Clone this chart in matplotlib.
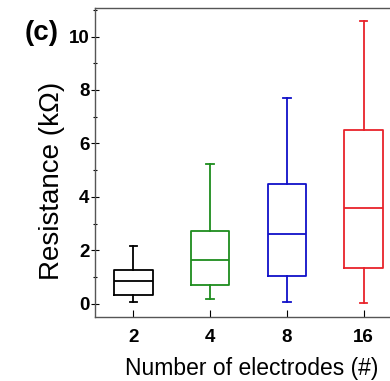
import matplotlib.pyplot as plt
from matplotlib.ticker import MultipleLocator

plt.rcParams['font.family'] = ['Liberation Sans', 'DejaVu Sans']

# box statistics (kOhm)
labels = ["2", "4", "8", "16"]
whisker_low = [0.07, 0.18, 0.07, 0.01]
q1 = [0.34, 0.71, 1.04, 1.33]
medians = [0.83, 1.62, 2.62, 3.58]
q3 = [1.25, 2.73, 4.49, 6.50]
whisker_high = [2.15, 5.23, 7.70, 10.58]
colors = ["black", "#1e8c1e", "#1010c8", "#e8232b"]

stats = []
for i in range(len(labels)):
    stats.append({"label": labels[i], "whislo": whisker_low[i], "q1": q1[i],
                  "med": medians[i], "q3": q3[i], "whishi": whisker_high[i]})

fig = plt.figure(figsize=(3.9, 3.81), dpi=100)
ax = fig.add_axes([0.2436, 0.168, 0.787, 0.811])

for i, s in enumerate(stats):
    c = colors[i]
    ax.bxp([s], positions=[i + 1], widths=0.5, showfliers=False,
           boxprops=dict(color=c, linewidth=1.3),
           medianprops=dict(color=c, linewidth=1.3),
           whiskerprops=dict(color=c, linewidth=1.3),
           capprops=dict(color=c, linewidth=1.3),
           capwidths=0.1)

ax.set_xticks(range(1, len(labels) + 1))
ax.set_xticklabels(labels)
ax.set_xlim(0.5, 4.5)
ax.set_ylim(-0.5, 11.07)
ax.set_yticks([0, 2, 4, 6, 8, 10])
ax.yaxis.set_minor_locator(MultipleLocator(1))

for lab in ax.get_xticklabels() + ax.get_yticklabels():
    lab.set_fontweight('bold')
    lab.set_fontsize(13.5)

ax.tick_params(axis='y', which='major', direction='inout', length=6, width=0.8, pad=1)
ax.tick_params(axis='y', which='minor', direction='inout', length=3, width=0.8)
ax.tick_params(axis='x', which='major', direction='in', length=5, width=0.8, pad=9)

ax.spines['right'].set_visible(False)
for sp in ax.spines.values():
    sp.set_color('#555555')
    sp.set_linewidth(1.0)

ax.set_ylabel("Resistance (k\u03a9)", fontsize=20)
ax.yaxis.set_label_coords(-0.098, 0.44)
ax.set_xlabel("Number of electrodes (#)", fontsize=16.5)
ax.xaxis.set_label_coords(0.51, -0.128)

fig.text(0.064, 0.895, "(c)", fontsize=20, fontweight='bold')

fig.savefig("out.png", dpi=100)
